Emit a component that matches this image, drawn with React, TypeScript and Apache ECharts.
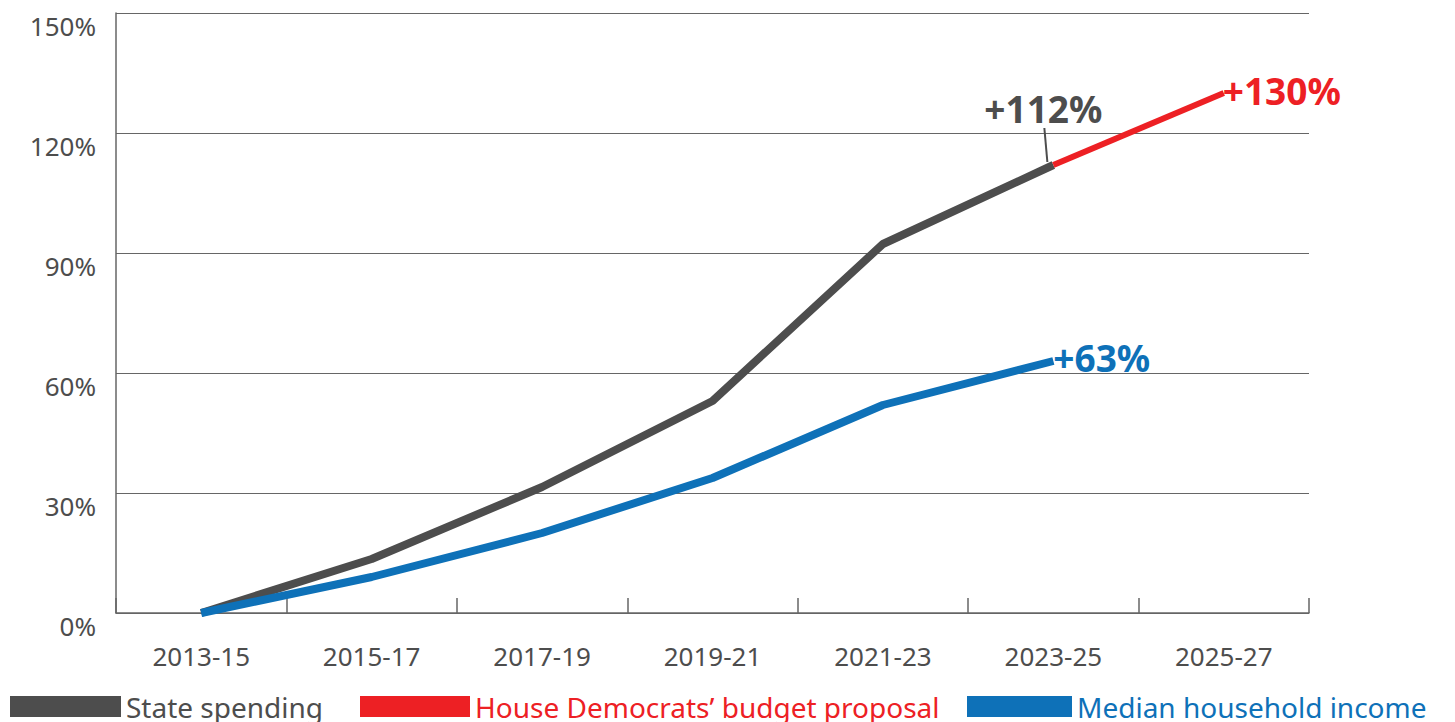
import React, { useEffect, useRef } from "react";
import * as echarts from "echarts";

const categories = ["2013-15", "2015-17", "2017-19", "2019-21", "2021-23", "2023-25", "2025-27"];
const stateSpending = [0, 13.5, 31.5, 53, 92.25, 112, null];
const houseProposal = [null, null, null, null, null, 112, 130];
const medianIncome = [0, 9, 20, 33.75, 52, 63, null];
const seriesNames = ["State spending", "House Democrats’ budget proposal", "Median household income"];
const seriesColors = ["#4d4d4d", "#ed2024", "#0e71b8"];
const endLabels = ["+112%", "+130%", "+63%"];

const FONT = "'Noto Sans', sans-serif";

export default function App() {
  const ref = useRef<HTMLDivElement>(null);
  useEffect(() => {
    if (!ref.current) return;
    const chart = echarts.init(ref.current, null, { renderer: "svg" });
    const legendLefts = [10, 360, 967];
    const legendWidths = [111, 110, 105];
    const option: any = {
      animation: false,
      textStyle: { fontFamily: FONT },
      grid: { left: 116, right: 146, top: 13, bottom: 109, containLabel: false },
      legend: seriesNames.map((n, i) => ({
        left: legendLefts[i],
        top: 688,
        padding: 0,
        icon: "rect",
        itemWidth: legendWidths[i],
        itemHeight: 21,
        itemGap: 0,
        selectedMode: false,
        data: [{ name: n, textStyle: { color: seriesColors[i] } }],
        textStyle: {
          fontSize: 28,
          fontFamily: FONT,
          color: seriesColors[i],
          lineHeight: 28,
          padding: [0, 0, 9, 0],
        },
      })),
      xAxis: {
        type: "category",
        data: categories,
        boundaryGap: true,
        axisLine: { show: true, lineStyle: { color: "#666", width: 1.5 } },
        axisTick: { show: true, inside: true, length: 15, lineStyle: { color: "#666", width: 1.5 } },
        axisLabel: { color: "#4d4d4d", fontSize: 26, margin: 30, fontFamily: FONT },
        splitLine: { show: false },
      },
      yAxis: {
        type: "value",
        min: 0,
        max: 150,
        interval: 30,
        axisLine: { show: true, lineStyle: { color: "#666", width: 1.5 } },
        axisTick: { show: false },
        axisLabel: {
          color: "#4d4d4d",
          fontSize: 26,
          margin: 20,
          fontFamily: FONT,
          formatter: "{value}%",
          verticalAlign: "top",
          lineHeight: 26,
        },
        splitLine: { show: true, lineStyle: { color: "#666", width: 1 } },
      },
      series: [
        {
          name: seriesNames[0],
          type: "line",
          data: stateSpending,
          showSymbol: false,
          symbol: "none",
          lineStyle: { color: seriesColors[0], width: 8 },
          itemStyle: { color: seriesColors[0] },
          z: 2,
        },
        {
          name: seriesNames[1],
          type: "line",
          data: houseProposal,
          showSymbol: false,
          symbol: "none",
          lineStyle: { color: seriesColors[1], width: 6 },
          itemStyle: { color: seriesColors[1] },
          z: 3,
        },
        {
          name: seriesNames[2],
          type: "line",
          data: medianIncome,
          showSymbol: false,
          symbol: "none",
          lineStyle: { color: seriesColors[2], width: 8 },
          itemStyle: { color: seriesColors[2] },
          z: 4,
        },
      ],
    };
    chart.setOption(option);
    const p112 = chart.convertToPixel({ xAxisIndex: 0, yAxisIndex: 0 }, [5, stateSpending[5] as number]) as number[];
    const p130 = chart.convertToPixel({ xAxisIndex: 0, yAxisIndex: 0 }, [6, houseProposal[6] as number]) as number[];
    const p63 = chart.convertToPixel({ xAxisIndex: 0, yAxisIndex: 0 }, [5, medianIncome[5] as number]) as number[];
    const boldText = (x: number, y: number, text: string, color: string, align: string) => ({
      type: "text",
      x,
      y,
      z: 10,
      style: {
        text,
        fill: color,
        font: `bold 37px ${FONT}`,
        align,
        verticalAlign: "middle",
      },
    });
    chart.setOption({
      graphic: [
        {
          type: "line",
          z: 10,
          shape: { x1: p112[0] - 6, y1: p112[1] - 3, x2: p112[0] - 9, y2: p112[1] - 37 },
          style: { stroke: seriesColors[0], lineWidth: 2 },
        },
        boldText(p112[0] - 10, p112[1] - 57, endLabels[0], seriesColors[0], "center"),
        boldText(p130[0] - 1, p130[1] - 3, endLabels[1], seriesColors[1], "left"),
        boldText(p63[0] + 0, p63[1] - 4, endLabels[2], seriesColors[2], "left"),
      ],
    });
    return () => chart.dispose();
  }, []);
  return (
    <div
      ref={ref}
      style={{ position: "fixed", left: 0, top: 0, width: 1455, height: 722, background: "#fff" }}
    />
  );
}
